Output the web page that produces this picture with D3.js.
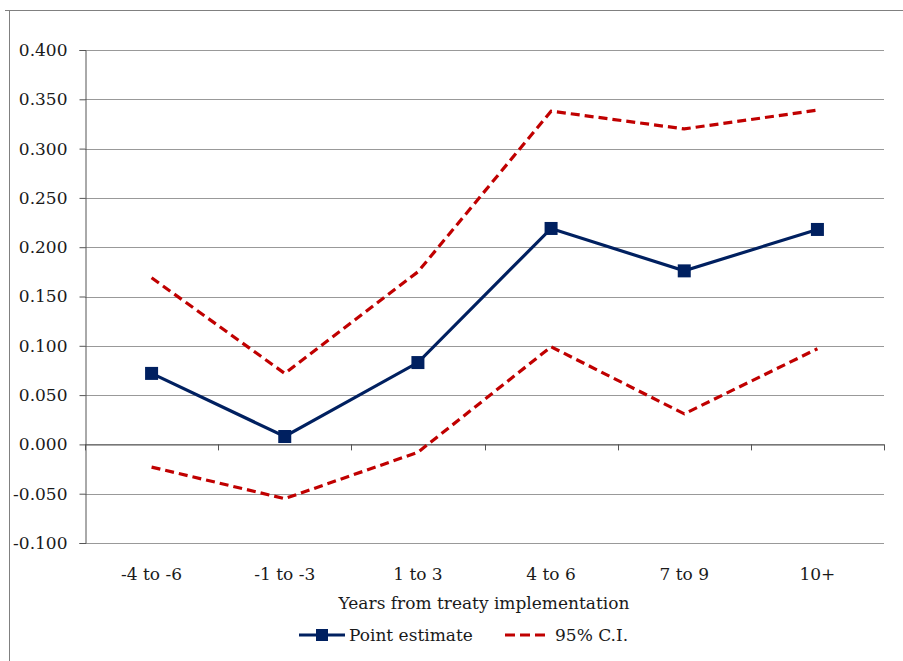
<!DOCTYPE html>
<html><head><meta charset="utf-8">
<script src="https://cdn.jsdelivr.net/npm/d3@7"></script>
<style>body{margin:0;background:#fff}svg{display:block}</style>
</head><body>
<script>
const categories = ["-4 to -6","-1 to -3","1 to 3","4 to 6","7 to 9","10+"];
const pointEstimate = [0.072,0.008,0.083,0.219,0.176,0.218];
const ciUpper = [0.169,0.072,0.175,0.338,0.320,0.339];
const ciLower = [-0.023,-0.055,-0.008,0.099,0.031,0.097];
const yTicks = [-0.1,-0.05,0,0.05,0.1,0.15,0.2,0.25,0.3,0.35,0.4];

const FONT = "DejaVu Serif, serif";
const FS = 17;
const W=903,H=661;
const svg=d3.select("body").append("svg").attr("width",W).attr("height",H)
  .attr("font-family",FONT).attr("font-size",FS);
const L=85,R=884,T=50,B=543;
const x=d3.scaleBand().domain(categories).range([L,R]);
const y=d3.scaleLinear().domain([-0.1,0.4]).range([B,T]);
const txt=s=>s.attr("font-family",FONT).attr("font-size",FS).attr("fill","#1a1a1a");

// outer frame
svg.append("line").attr("x1",5).attr("x2",W).attr("y1",10.5).attr("y2",10.5).attr("stroke","#808080");
svg.append("line").attr("x1",9.5).attr("x2",9.5).attr("y1",10).attr("y2",H).attr("stroke","#808080");

// gridlines
svg.append("g").selectAll("line").data(yTicks).join("line")
  .attr("x1",L).attr("x2",R).attr("y1",d=>Math.round(y(d))+0.5).attr("y2",d=>Math.round(y(d))+0.5)
  .attr("stroke","#999").attr("stroke-width",1.2);

// y axis
const ya=svg.append("g").attr("transform",`translate(${L+0.5},0)`)
  .call(d3.axisLeft(y).tickValues(yTicks).tickFormat(d3.format(".3f")).tickSize(6).tickPadding(12));
ya.attr("font-family",FONT).attr("font-size",FS);
ya.select(".domain").attr("stroke","#555");
ya.selectAll(".tick line").attr("stroke","#555");
ya.selectAll("text").call(txt).text(d=>d3.format(".3f")(d).replace("−","-"));

// x axis at zero
const xa=svg.append("g").attr("transform",`translate(0,${Math.round(y(0))+0.5})`)
  .call(d3.axisBottom(x).tickSize(0).tickFormat(""));
xa.select(".domain").attr("stroke","#555");
svg.append("g").selectAll("line").data(d3.range(categories.length+1)).join("line")
  .attr("x1",i=>Math.round(L+i*x.step())+0.5).attr("x2",i=>Math.round(L+i*x.step())+0.5)
  .attr("y1",y(0)).attr("y2",y(0)+6).attr("stroke","#555");

// x labels
svg.append("g").selectAll("text").data(categories).join("text")
  .attr("x",d=>x(d)+x.bandwidth()/2).attr("y",580).attr("text-anchor","middle")
  .call(txt).text(d=>d);

svg.append("text").attr("x",484).attr("y",609).attr("text-anchor","middle").call(txt)
  .text("Years from treaty implementation");

const cx=d=>x(d)+x.bandwidth()/2;
const line=d3.line().x((d,i)=>cx(categories[i])).y(d=>y(d));
[ciUpper,ciLower].forEach(s=>{
  svg.append("path").attr("d",line(s)).attr("fill","none").attr("stroke","#C00000")
    .attr("stroke-width",3.2).attr("stroke-dasharray","9,5");
});
svg.append("path").attr("d",line(pointEstimate)).attr("fill","none").attr("stroke","#002060").attr("stroke-width",3.2);
svg.append("g").selectAll("rect").data(pointEstimate).join("rect")
  .attr("x",(d,i)=>cx(categories[i])-6.5).attr("y",d=>y(d)-6.5).attr("width",13).attr("height",13).attr("fill","#002060");

// legend
const lg=svg.append("g");
lg.append("line").attr("x1",299).attr("x2",345).attr("y1",635).attr("y2",635).attr("stroke","#002060").attr("stroke-width",3.2);
lg.append("rect").attr("x",316).attr("y",629).attr("width",12).attr("height",12).attr("fill","#002060");
lg.append("text").attr("x",349).attr("y",641).call(txt).text("Point estimate");
lg.append("line").attr("x1",505).attr("x2",547).attr("y1",635).attr("y2",635).attr("stroke","#C00000").attr("stroke-width",3.2).attr("stroke-dasharray","10,5");
lg.append("text").attr("x",555).attr("y",641).call(txt).text("95% C.I.");
</script>
</body></html>
